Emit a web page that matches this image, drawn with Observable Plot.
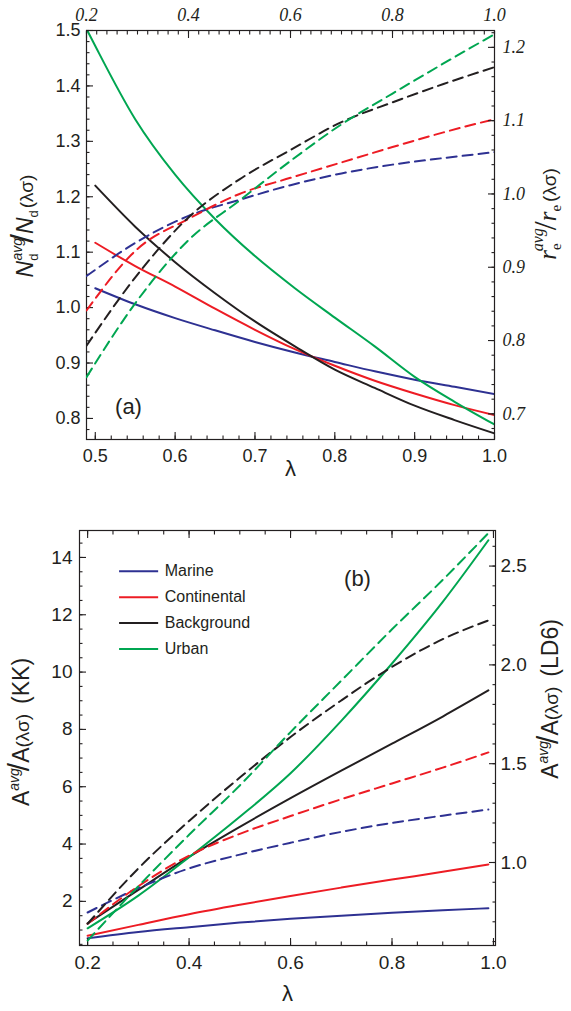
<!DOCTYPE html>
<html><head><meta charset="utf-8">
<script src="https://cdn.jsdelivr.net/npm/d3@7"></script>
<script src="https://cdn.jsdelivr.net/npm/@observablehq/plot@0.6"></script>
<style>
body{margin:0;background:#fff;}
#wrap{position:relative;width:571px;height:1011px;overflow:hidden;}
#wrap svg{position:absolute;left:0;background:transparent !important;overflow:visible;max-width:none;}
</style></head><body><div id="wrap"></div>
<script>
// ---------- series ----------
const series = ["Marine", "Continental", "Background", "Urban"];
const colors = ["#2e3192", "#ed1c24", "#231f20", "#00a651"];

// ---------- panel (a): solid, N_d ratio vs λ (bottom / left axes) ----------
const lamA = [0.5, 0.55, 0.6, 0.65, 0.7, 0.75, 0.8, 0.85, 0.9, 0.95, 1.0];
const lamUrbanA = [0.49, 0.5, 0.55, 0.6, 0.65, 0.7, 0.75, 0.8, 0.85, 0.9, 0.95, 1.0];
const ndMarine = [1.035, 1.006, 0.981, 0.959, 0.938, 0.919, 0.902, 0.885, 0.870, 0.857, 0.844];
const ndContinental = [1.117, 1.075, 1.038, 0.998, 0.960, 0.925, 0.895, 0.868, 0.845, 0.824, 0.806];
const ndBackground = [1.220, 1.146, 1.082, 1.026, 0.975, 0.930, 0.888, 0.855, 0.823, 0.797, 0.773];
const ndUrban = [1.500, 1.472, 1.340, 1.240, 1.160, 1.093, 1.035, 0.982, 0.930, 0.875, 0.830, 0.789];

// ---------- panel (a): dashed, r_e ratio vs λ (top / right axes) ----------
const lamTop = [0.2, 0.3, 0.4, 0.5, 0.6, 0.7, 0.8, 0.9, 1.0];
const reMarine = [0.888, 0.935, 0.970, 0.992, 1.012, 1.028, 1.040, 1.049, 1.057];
const reContinental = [0.841, 0.925, 0.966, 1.000, 1.022, 1.043, 1.064, 1.084, 1.102];
const reBackground = [0.793, 0.890, 0.968, 1.020, 1.060, 1.098, 1.125, 1.150, 1.173];
const reUrban = [0.750, 0.855, 0.937, 0.991, 1.045, 1.095, 1.137, 1.178, 1.218];

// ---------- panel (b): A ratio vs λ ----------
const lamB = [0.2, 0.3, 0.4, 0.5, 0.6, 0.7, 0.8, 0.9, 0.99];
const kkMarine = [0.71, 0.93, 1.10, 1.26, 1.39, 1.50, 1.60, 1.69, 1.76];
const kkContinental = [0.80, 1.18, 1.55, 1.88, 2.19, 2.48, 2.76, 3.03, 3.29];
const kkBackground = [1.23, 2.40, 3.55, 4.60, 5.60, 6.56, 7.50, 8.45, 9.36];
const kkUrban = [1.06, 2.20, 3.54, 4.95, 6.47, 8.30, 10.30, 12.45, 14.60];
const ldMarine = [0.747, 0.87, 0.97, 1.04, 1.10, 1.155, 1.20, 1.237, 1.268];
const ldContinental = [0.69, 0.88, 1.035, 1.145, 1.235, 1.32, 1.40, 1.48, 1.557];
const ldBackground = [0.69, 0.97, 1.21, 1.43, 1.635, 1.82, 1.99, 2.13, 2.225];
const ldUrban = [0.605, 0.88, 1.14, 1.39, 1.66, 1.92, 2.18, 2.43, 2.667];

// ---------- ticks ----------
const aBottomMajor = [0.5, 0.6, 0.7, 0.8, 0.9, 1.0];
const aBottomMinor = d3.range(25, 51).map(i => i / 50);
const aLeftMajor = [0.8, 0.9, 1.0, 1.1, 1.2, 1.3, 1.4, 1.5];
const aLeftMinor = d3.range(39, 76).map(i => i / 50);
const aTopMajor = [0.2, 0.4, 0.6, 0.8, 1.0];
const aTopMinor = d3.range(10, 51).map(i => i / 50);
const aRightMajor = [0.7, 0.8, 0.9, 1.0, 1.1, 1.2];
const aRightMinor = d3.range(34, 62).map(i => i / 50);
const bXMajor = [0.2, 0.4, 0.6, 0.8, 1.0];
const bXMinor = d3.range(4, 21).map(i => i / 20);
const bLeftMajor = [2, 4, 6, 8, 10, 12, 14];
const bLeftMinor = d3.range(1, 30).map(i => i / 2);
const bRightMajor = [1.0, 1.5, 2.0, 2.5];
const bRightMinor = d3.range(6, 27).map(i => i / 10);

// ---------- build tables ----------
const rows = (xs, ys, s) => ys.map((v, i) => ({x: xs[i], y: v, s}));
const aSolid = [...rows(lamA, ndMarine, "Marine"), ...rows(lamA, ndContinental, "Continental"),
  ...rows(lamA, ndBackground, "Background"), ...rows(lamUrbanA, ndUrban, "Urban")];
const aDash = [...rows(lamTop, reMarine, "Marine"), ...rows(lamTop, reContinental, "Continental"),
  ...rows(lamTop, reBackground, "Background"), ...rows(lamTop, reUrban, "Urban")];
const bSolid = [...rows(lamB, kkMarine, "Marine"), ...rows(lamB, kkContinental, "Continental"),
  ...rows(lamB, kkBackground, "Background"), ...rows(lamB, kkUrban, "Urban")];
const bDash = [...rows(lamB, ldMarine, "Marine"), ...rows(lamB, ldContinental, "Continental"),
  ...rows(lamB, ldBackground, "Background"), ...rows(lamB, ldUrban, "Urban")];

const INK = "#231f20";
const sans = "'Liberation Sans', Arial, sans-serif";
const serif = "'Liberation Serif', 'Times New Roman', serif";
const f1 = d3.format(".1f");
const blank = () => "";
const colorScale = {domain: series, range: colors};

const geomA = {width: 571, height: 480, marginLeft: 86, marginRight: 77, marginTop: 30, marginBottom: 41};
const geomB = {width: 571, height: 511, marginLeft: 79, marginRight: 76, marginTop: 30, marginBottom: 66};

const tickOpts = {stroke: INK, strokeWidth: 1.1, label: null};
const maj = (anchor, ticks, fmt, pad, extra = {}) => {
  const axis = (anchor === "bottom" || anchor === "top") ? Plot.axisX : Plot.axisY;
  return axis({anchor, ticks, tickSize: -7, tickPadding: pad, tickFormat: fmt, ...tickOpts, ...extra});
};
const minr = (anchor, ticks) => {
  const axis = (anchor === "bottom" || anchor === "top") ? Plot.axisX : Plot.axisY;
  return axis({anchor, ticks, tickSize: -3.5, tickFormat: blank, ...tickOpts});
};

// ----- panel (a), solid layer -----
const a1 = Plot.plot({
  ...geomA,
  style: {fontFamily: sans, fontSize: "18px", color: INK, background: "transparent"},
  x: {domain: [0.489, 1.0], label: null},
  y: {domain: [0.762, 1.5], label: null},
  color: colorScale,
  marks: [
    Plot.line(aSolid, {x: "x", y: "y", z: "s", stroke: "s", strokeWidth: 2, curve: "monotone-x", clip: true}),
    Plot.frame({stroke: INK, strokeWidth: 1.2}),
    maj("bottom", aBottomMajor, f1, 17, {fill: INK}),
    minr("bottom", aBottomMinor),
    maj("left", aLeftMajor, f1, 13, {fill: INK}),
    minr("left", aLeftMinor),
    Plot.text(["λ"], {frameAnchor: "bottom", dy: 29, fontSize: 22, lineAnchor: "middle", fill: INK}),
    Plot.text(["(a)"], {frameAnchor: "bottom-left", dx: 42, dy: -33, fontSize: 22, textAnchor: "middle", lineAnchor: "middle", fill: INK})
  ]
});

// ----- panel (a), dashed layer -----
const a2 = Plot.plot({
  ...geomA,
  style: {fontFamily: serif, fontStyle: "italic", fontSize: "18px", color: INK, background: "transparent"},
  x: {domain: [0.2, 1.0], label: null},
  y: {domain: [0.665, 1.223], label: null},
  color: colorScale,
  marks: [
    Plot.line(aDash, {x: "x", y: "y", z: "s", stroke: "s", strokeWidth: 2, strokeDasharray: "10,6", curve: "monotone-x", clip: true}),
    maj("top", aTopMajor, f1, 17, {fill: INK}),
    minr("top", aTopMinor),
    maj("right", aRightMajor, f1, 15, {fill: INK}),
    minr("right", aRightMinor)
  ]
});

// ----- panel (b), solid layer -----
const b1 = Plot.plot({
  ...geomB,
  style: {fontFamily: sans, fontSize: "19px", color: INK, background: "transparent"},
  x: {domain: [0.184, 1.004], label: null},
  y: {domain: [0.46, 14.94], label: null},
  color: colorScale,
  marks: [
    Plot.line(bSolid, {x: "x", y: "y", z: "s", stroke: "s", strokeWidth: 2, curve: "monotone-x", clip: true}),
    Plot.frame({stroke: INK, strokeWidth: 1.2}),
    maj("bottom", bXMajor, f1, 17, {fill: INK}),
    minr("bottom", bXMinor),
    maj("top", bXMajor, blank, 17),
    minr("top", bXMinor),
    maj("left", bLeftMajor, d3.format("d"), 14, {fill: INK}),
    minr("left", bLeftMinor),
    // legend
    Plot.ruleY(series, {y: (d, i) => 13.52 - i * 0.905, x1: 0.263, x2: 0.340, stroke: d => d, strokeWidth: 2}),
    Plot.text(series, {x: 0.352, y: (d, i) => 13.52 - i * 0.905, text: d => d, textAnchor: "start", lineAnchor: "middle", fontSize: 16, fill: INK}),
    Plot.text(["λ"], {frameAnchor: "bottom", dy: 48, fontSize: 22, lineAnchor: "middle", fill: INK}),
    Plot.text(["(b)"], {frameAnchor: "top-left", dx: 278, dy: 48, fontSize: 22, textAnchor: "middle", lineAnchor: "middle", fill: INK})
  ]
});

// ----- panel (b), dashed layer -----
const b2 = Plot.plot({
  ...geomB,
  style: {fontFamily: sans, fontSize: "19px", color: INK, background: "transparent"},
  x: {domain: [0.184, 1.004], label: null, axis: null},
  y: {domain: [0.58, 2.68], label: null},
  color: colorScale,
  marks: [
    Plot.line(bDash, {x: "x", y: "y", z: "s", stroke: "s", strokeWidth: 2, strokeDasharray: "10,6", curve: "monotone-x", clip: true}),
    maj("right", bRightMajor, f1, 12, {fill: INK}),
    minr("right", bRightMinor)
  ]
});

const wrap = document.getElementById("wrap");
[[a1, 0], [a2, 0], [b1, 500], [b2, 500]].forEach(([svg, top]) => {
  svg.style.top = top + "px";
  wrap.appendChild(svg);
});

// ---------- rotated axis titles with sub/superscripts ----------
function rotLabel(svg, x, y, family, size, parts) {
  const t = d3.select(svg).append("text")
    .attr("transform", `translate(${x},${y}) rotate(-90)`)
    .attr("text-anchor", "middle")
    .attr("font-family", family)
    .attr("font-size", size)
    .attr("font-style", "normal")
    .attr("fill", INK);
  for (const p of parts) {
    const ts = t.append("tspan").text(p.t);
    if (p.dx) ts.attr("dx", p.dx);
    if (p.dy) ts.attr("dy", p.dy);
    if (p.fs) ts.attr("font-size", p.fs);
    if (p.f) ts.attr("font-family", p.f);
    ts.attr("font-style", p.it ? "italic" : "normal");
  }
}

rotLabel(a1, 33, 226, sans, 23, [
  {t: "N", it: true},
  {t: "d", fs: 13, dy: 5},
  {t: "avg", fs: 14, it: true, dx: -7, dy: -16},
  {t: "/", fs: 32, dy: 11, dx: -5},
  {t: "N", it: true},
  {t: "d", fs: 13, dy: 5},
  {t: "(λσ)", fs: 19, dy: -5, dx: 2}
]);

rotLabel(a2, 556, 214, serif, 25, [
  {t: "r", it: true},
  {t: "e", fs: 15, dy: 5},
  {t: "avg", fs: 16, it: true, dx: -8, dy: -18},
  {t: "/", fs: 32, dy: 13, dx: -2},
  {t: "r", it: true},
  {t: "e", fs: 15, dy: 5},
  {t: "(λσ)", fs: 19, dy: -5, dx: 3, f: sans}
]);

rotLabel(b1, 29, 232, sans, 23, [
  {t: "A"},
  {t: "avg", fs: 14, it: true, dy: -10},
  {t: "/", fs: 30, dy: 10, dx: -3},
  {t: "A"},
  {t: "(λσ)", fs: 19},
  {t: "(KK)", dx: 10}
]);

rotLabel(b2, 558, 199, sans, 23, [
  {t: "A"},
  {t: "avg", fs: 14, it: true, dy: -10},
  {t: "/", fs: 30, dy: 10, dx: -3},
  {t: "A"},
  {t: "(λσ)", fs: 19},
  {t: "(LD6)", dx: 10}
]);
</script>
</body></html>
